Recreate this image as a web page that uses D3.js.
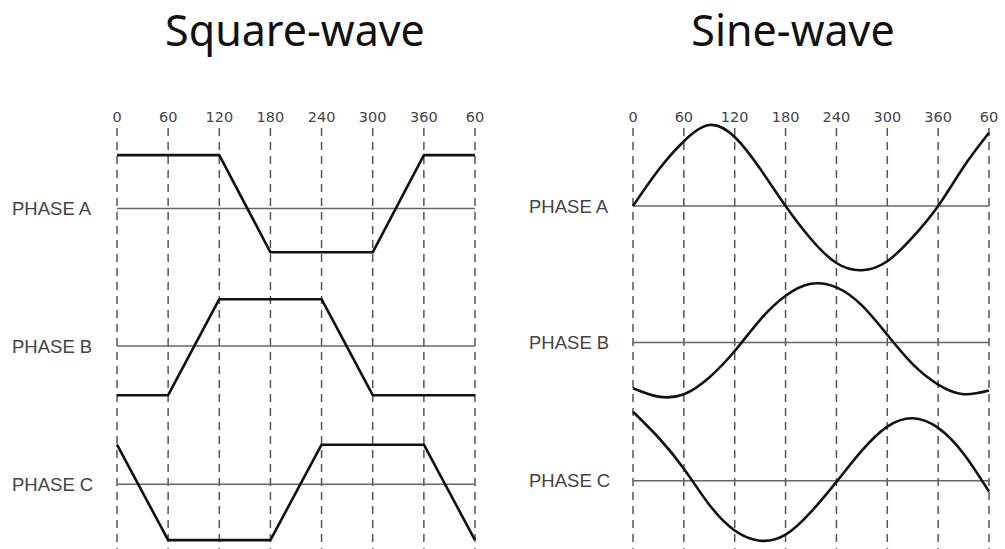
<!DOCTYPE html>
<html>
<head>
<meta charset="utf-8">
<script src="https://cdn.jsdelivr.net/npm/d3@7"></script>
<style>
body { margin: 0; background: #fff; }
</style>
</head>
<body>
<script>
// chart values
var degrees = [0, 60, 120, 180, 240, 300, 360, 420];
var tickLabels = ["0", "60", "120", "180", "240", "300", "360", "60"];
var phases = ["PHASE A", "PHASE B", "PHASE C"];
var titles = ["Square-wave", "Sine-wave"];

// square wave levels at each 60 degree step
var squareA = [0.89, 0.89, 0.89, -0.73, -0.73, -0.73, 0.89, 0.89];
var squareB = [-0.82, -0.82, 0.78, 0.78, 0.78, -0.82, -0.82, -0.82];
var squareC = [0.66, -0.93, -0.93, -0.93, 0.66, 0.66, 0.66, -0.93];

// sine wave read every 30 degrees, 0..420
var sineDeg = [0, 30, 60, 90, 120, 150, 180, 210, 240, 270, 300, 330, 360, 390, 420];
var sineA = [0, 0.6, 1.08, 1.35, 1.15, 0.62, 0, -0.55, -0.95, -1.07, -0.92, -0.52, 0, 0.65, 1.22];
var sineB = [-0.76, -0.9, -0.86, -0.58, -0.14, 0.38, 0.78, 0.98, 0.92, 0.62, 0.13, -0.36, -0.7, -0.86, -0.8];
var sineC = [1.15, 0.72, 0.2, -0.4, -0.83, -1.0, -0.9, -0.52, -0.02, 0.5, 0.9, 1.04, 0.88, 0.45, -0.18];

var W = 1005, H = 549;

var svg = d3.select("body").append("svg")
    .attr("width", W)
    .attr("height", H);

var panels = [
    {title: titles[0], cx: 295, x0: 117, x1: 475, labelX: 12, zeros: [208.5, 346, 484.3],
     series: [squareA, squareB, squareC], xs: degrees, curve: d3.curveLinear},
    {title: titles[1], cx: 793, x0: 633, x1: 989, labelX: 529, zeros: [206, 342.6, 480.7],
     series: [sineA, sineB, sineC], xs: sineDeg, curve: d3.curveNatural}
];

panels.forEach(function(p) {
    var x = d3.scaleLinear().domain([0, 420]).range([p.x0, p.x1]);
    var g = svg.append("g");

    g.append("text")
        .attr("x", p.cx)
        .attr("y", 46)
        .attr("text-anchor", "middle")
        .style("font-family", "'Noto Sans', 'Open Sans', sans-serif")
        .style("font-size", "43px")
        .style("fill", "#111")
        .text(p.title);

    // dashed vertical guides
    g.selectAll(".guide")
        .data(degrees)
        .enter().append("line")
        .attr("class", "guide")
        .attr("x1", function(d) { return x(d); })
        .attr("x2", function(d) { return x(d); })
        .attr("y1", 128)
        .attr("y2", H)
        .attr("stroke", "#555")
        .attr("stroke-width", 1.5)
        .attr("stroke-dasharray", "8,6");

    // top tick labels
    g.selectAll(".tick")
        .data(degrees)
        .enter().append("text")
        .attr("class", "tick")
        .attr("x", function(d) { return x(d); })
        .attr("y", 122)
        .attr("text-anchor", "middle")
        .style("font-family", "'DejaVu Sans', sans-serif")
        .style("font-size", "14.5px")
        .style("fill", "#444")
        .text(function(d, i) { return tickLabels[i]; });

    phases.forEach(function(name, i) {
        var zero = p.zeros[i];
        var y = d3.scaleLinear().domain([-1, 1]).range([zero + 60, zero - 60]);

        g.append("line")
            .attr("x1", x(0))
            .attr("x2", x(420))
            .attr("y1", y(0))
            .attr("y2", y(0))
            .attr("stroke", "#666")
            .attr("stroke-width", 1.5);

        g.append("text")
            .attr("x", p.labelX)
            .attr("y", y(0) + 6.5)
            .style("font-family", "'Liberation Sans', Arial, sans-serif")
            .style("font-size", "18.5px")
            .style("fill", "#444")
            .text(name);

        var line = d3.line()
            .x(function(d, j) { return x(p.xs[j]); })
            .y(function(d) { return y(d); })
            .curve(p.curve);

        g.append("path")
            .datum(p.series[i])
            .attr("d", line)
            .attr("fill", "none")
            .attr("stroke", "#111")
            .attr("stroke-width", 2.6)
            .attr("stroke-linejoin", "round");
    });
});
</script>
</body>
</html>
